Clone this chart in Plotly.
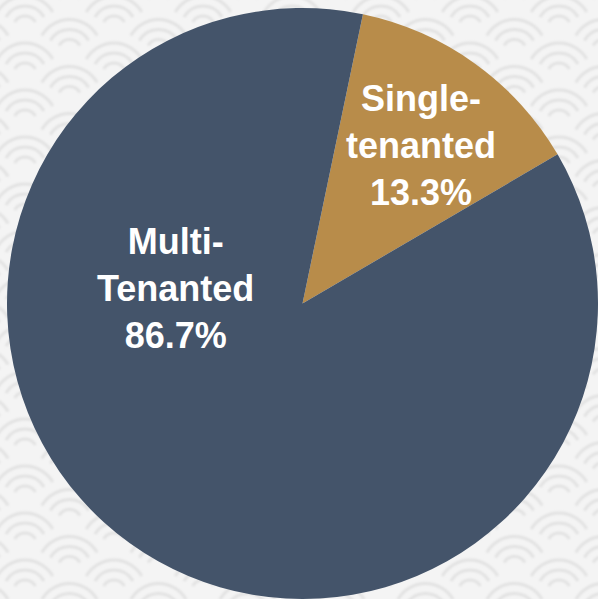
import base64
import math
import plotly.graph_objects as go

# ---- data ----
categories = ["Single-tenanted", "Multi-Tenanted"]
shares = [13.3, 86.7]
slice_colors = ["#B88C4A", "#44546A"]

W, H = 598, 599

# ---- decorative background (seigaiha-like arcs) ----
def arc_path(cx, cy, r, half_deg=60):
    a = math.radians(half_deg)
    x0, y0 = cx - r * math.sin(a), cy - r * math.cos(a)
    x1, y1 = cx + r * math.sin(a), cy - r * math.cos(a)
    return f"M{x0:.1f},{y0:.1f} A{r},{r} 0 0 1 {x1:.1f},{y1:.1f} "

parts = []
for j in range(-1, 14):
    for i in range(-1, 8):
        for (ox, oy) in ((25, 28), (69.5, 51.5)):
            cx, cy = ox + 89 * i, oy + 47 * j
            for r in (12, 22, 32):
                parts.append(arc_path(cx, cy, r))
svg = (
    f"<svg xmlns='http://www.w3.org/2000/svg' width='{W}' height='{H}' viewBox='0 0 {W} {H}'>"
    "<defs><filter id='b'><feGaussianBlur stdDeviation='0.8'/></filter></defs>"
    "<rect width='100%' height='100%' fill='#f4f4f4'/>"
    f"<path d='{''.join(parts)}' fill='none' stroke='#e2e2e2' stroke-width='3' filter='url(#b)'/>"
    "</svg>"
)
bg_uri = "data:image/svg+xml;base64," + base64.b64encode(svg.encode()).decode()

fig = go.Figure(
    go.Pie(
        labels=categories,
        values=shares,
        marker=dict(colors=slice_colors, line=dict(width=0)),
        sort=False,
        direction="clockwise",
        rotation=11.8,
        textinfo="none",
        hoverinfo="label+percent",
        domain=dict(x=[7 / W, 1], y=[0, 1 - 8 / H]),
        showlegend=False,
    )
)

# label placement (pixels in the figure)
label_px = [(421, 145), (175, 288)]
for name, val, (px, py) in zip(categories, shares, label_px):
    txt = name.replace("-", "-<br>", 1) + f"<br>{val:.1f}%"
    fig.add_annotation(
        x=px / W, y=1 - py / H, xref="paper", yref="paper",
        text=f"<b>{txt}</b>", showarrow=False,
        xanchor="center", yanchor="middle", align="center",
        font=dict(family="Liberation Sans, Arial, sans-serif", size=36, color="white"),
    )

fig.add_layout_image(
    source=bg_uri, xref="paper", yref="paper", x=0, y=1, sizex=1, sizey=1,
    xanchor="left", yanchor="top", sizing="stretch", layer="below",
)

fig.update_layout(
    width=W, height=H,
    margin=dict(l=0, r=0, t=0, b=0),
    paper_bgcolor="#f4f4f4",
    plot_bgcolor="#f4f4f4",
)

fig.write_html("out.html")
